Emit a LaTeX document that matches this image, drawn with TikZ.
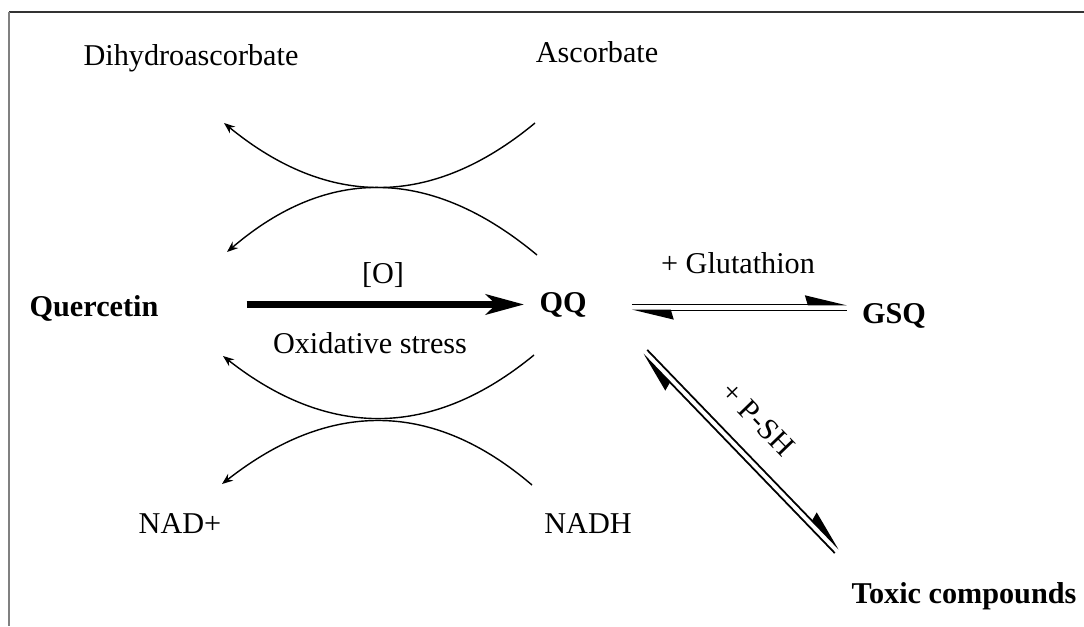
\documentclass[tikz,border=0pt]{standalone}
\usepackage{fontspec}
\setmainfont{Liberation Serif}
\usetikzlibrary{arrows.meta}

\begin{document}
\begin{tikzpicture}[x=0.02cm, y=-0.02cm]
    \tikzset{lb/.style={anchor=base, inner sep=0pt, font=\fontsize{17.2}{20}\selectfont},
      bd/.style={lb, font=\fontsize{17.2}{20}\selectfont\bfseries},
      cyc/.style={line width=.8pt, -{Stealth[length=.22cm, width=.17cm]}},
      main/.style={line width=4pt, -{Stealth[length=.76cm, width=.4cm, inset=.2cm]}},
      eq/.style={line width=1pt, -{Stealth[harpoon, length=.76cm, width=.36cm, inset=.05cm]}}}
    \useasboundingbox (0, 0) rectangle (1084, 626);
    \draw[line width=1.1pt, draw=black!80] (1084, 12) -- (9, 12);
    \draw[line width=1.1pt, draw=black!50] (9, 12) -- (9, 626);
    \node[lb] at (191, 65) (dha) {Dihydroascorbate};
    \node[lb] at (597, 62) (asc) {Ascorbate};
    \node[lb] at (383, 283) (ox) {[O]};
    \node[bd] at (94, 316) (querc) {Quercetin};
    \node[bd] at (563, 312) (qq) {QQ};
    \node[lb] at (370, 353) (stress) {Oxidative stress};
    \node[lb] at (738, 273) (glu) {+ Glutathion};
    \node[bd] at (894, 323) (gsq) {GSQ};
    \node[lb] at (180, 533) (nad) {NAD+};
    \node[lb] at (588, 533) (nadh) {NADH};
    \node[bd] at (964, 603) (toxic) {Toxic compounds};
    \node[lb, anchor=center, rotate=-46] at (758, 419) (psh) {+ P-SH};
    % ascorbate / NADH cycles
    \coordinate (t0) at (535, 123); \coordinate (t1) at (224, 123);
    \coordinate (t2) at (537, 255); \coordinate (t3) at (227, 252);
    \coordinate (b0) at (534, 355); \coordinate (b1) at (223, 356);
    \coordinate (b2) at (532, 485); \coordinate (b3) at (222, 484);
    \draw[cyc] (t0) .. controls (432, 208.3) and (328.3, 208.3) .. (t1);
    \draw[cyc] (t2) .. controls (431, 166.7) and (327.7, 165.7) .. (t3);
    \draw[cyc] (b0) .. controls (432.3, 438.7) and (328.7, 439) .. (b1);
    \draw[cyc] (b2) .. controls (432.7, 400) and (329.3, 399.7) .. (b3);
    % reactions
    \draw[main, shorten <=1.76cm, shorten >=.3cm] ([yshift=.07cm]querc.east) -- ([yshift=.07cm]querc.east -| qq.west);
    \draw[eq, shorten <=.9cm, shorten >=.3cm] (qq.east) -- (qq.east -| gsq.west);
    \draw[eq, shorten <=.3cm, shorten >=.9cm] ([yshift=-.12cm]qq.east -| gsq.west) -- ([yshift=-.12cm]qq.east);
    \coordinate (d0) at (645, 352); \coordinate (d1) at (837, 551);
    \draw[eq] ([shift={(2.2, -2.1)}]d0) -- ([shift={(2.2, -2.1)}]d1);
    \draw[eq] ([shift={(-2.2, 2.1)}]d1) -- ([shift={(-2.2, 2.1)}]d0);
\end{tikzpicture}
\end{document}
